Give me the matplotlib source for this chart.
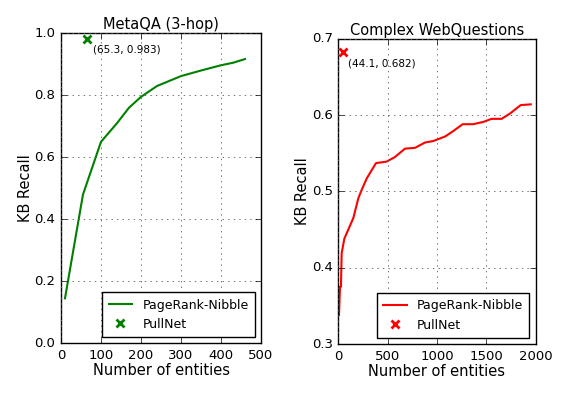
import matplotlib

matplotlib.use("Agg")

import matplotlib.pyplot as plt

# MetaQA (3-hop): PageRank-Nibble recall vs retrieved entities
meta_x = [10, 55, 100, 140, 170, 200, 240, 300, 350, 400, 430, 460]
meta_y = [0.145, 0.48, 0.65, 0.71, 0.76, 0.795, 0.83, 0.862, 0.88, 0.897, 0.905, 0.917]
meta_pull = (65.3, 0.983)

# Complex WebQuestions
cwq_x = [7, 17, 27, 34, 61, 152, 203, 237, 288, 382, 490, 574, 676, 777, 878, 963,
         1084, 1165, 1260, 1368, 1469, 1554, 1655, 1740, 1848, 1950]
cwq_y = [0.338, 0.375, 0.375, 0.419, 0.438, 0.465, 0.491, 0.502, 0.517, 0.537, 0.539,
         0.545, 0.556, 0.557, 0.564, 0.566, 0.572, 0.579, 0.588, 0.588, 0.591, 0.595,
         0.595, 0.602, 0.613, 0.614]
cwq_pull = (44.1, 0.682)

plt.style.use("classic")
plt.rcParams["font.family"] = "DejaVu Sans"

fig = plt.figure(figsize=(5.78, 3.99), dpi=100, facecolor="white")
ax1 = fig.add_axes([0.1055, 0.1396, 0.3461, 0.7769])
ax2 = fig.add_axes([0.5853, 0.1378, 0.3415, 0.7652])


def draw_panel(ax, xs, ys, pull, color, title, xlim, ylim, xticks, yticks):
    ax.plot(xs, ys, color=color, linewidth=1.5, label="PageRank-Nibble")
    ax.plot([pull[0]], [pull[1]], linestyle="none", marker="x", color=color,
            markersize=6, markeredgewidth=2, label="PullNet")
    ax.annotate(f"({pull[0]}, {pull[1]})", xy=pull, xytext=(4, -10),
                textcoords="offset points", fontsize=7.5)
    ax.set_xlim(*xlim)
    ax.set_ylim(*ylim)
    ax.set_xticks(xticks)
    ax.set_yticks(yticks)
    ax.set_title(title, fontsize=10.5, pad=3)
    ax.set_xlabel("Number of entities", fontsize=10.5, labelpad=1)
    ax.set_ylabel("KB Recall", fontsize=10.5, labelpad=1)
    ax.tick_params(labelsize=9.5)
    ax.grid(True, color="0.35", linewidth=0.6)
    ax.legend(loc="lower right", numpoints=1, fontsize=9, fancybox=False,
              handlelength=1.9, borderpad=0.5)


draw_panel(ax1, meta_x, meta_y, meta_pull, "green", "MetaQA (3-hop)",
           (0, 500), (0.0, 1.0), range(0, 501, 100), [0.0, 0.2, 0.4, 0.6, 0.8, 1.0])
draw_panel(ax2, cwq_x, cwq_y, cwq_pull, "red", "Complex WebQuestions",
           (0, 2000), (0.3, 0.7), range(0, 2001, 500), [0.3, 0.4, 0.5, 0.6, 0.7])

fig.savefig("out.png", dpi=100, facecolor="white")
